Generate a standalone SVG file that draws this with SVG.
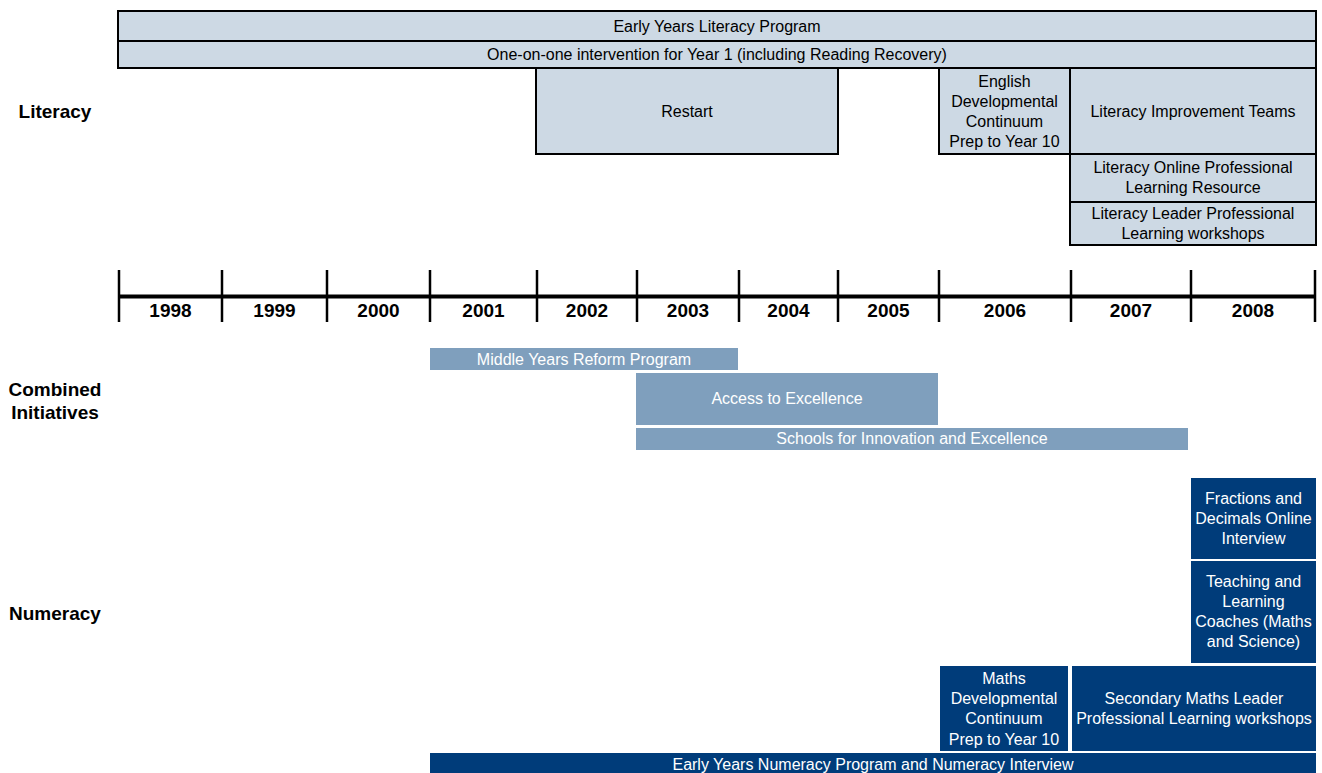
<svg xmlns="http://www.w3.org/2000/svg" width="1322" height="773" viewBox="0 0 1322 773">
<style>
.lit{fill:#cdd9e4;stroke:#000;stroke-width:2}
.com{fill:#7f9fbd}
.num{fill:#003c7a}
.t{font-family:"Liberation Sans",Arial,sans-serif;font-size:16px;text-anchor:middle}
.dk{fill:#000}
.wt{fill:#fff}
.hd{font-family:"Liberation Sans",Arial,sans-serif;font-size:19px;font-weight:bold;text-anchor:middle;fill:#000}
.tick{stroke:#000;stroke-width:2.5}
</style>
<rect width="1322" height="773" fill="#fff"/>
<g id="labels">
<text class="hd" x="55" y="118">Literacy</text>
<text class="hd" x="55" y="396">Combined</text>
<text class="hd" x="55" y="419">Initiatives</text>
<text class="hd" x="55" y="620">Numeracy</text>
</g>
<g id="early-years-literacy"><rect class="lit" x="118" y="11" width="1198" height="30"/><text class="t dk" x="717" y="32">Early Years Literacy Program</text></g>
<g id="one-on-one"><rect class="lit" x="118" y="41" width="1198" height="27"/><text class="t dk" x="717" y="60">One-on-one intervention for Year 1 (including Reading Recovery)</text></g>
<g id="restart"><rect class="lit" x="536" y="68" width="302" height="86"/><text class="t dk" x="687" y="117">Restart</text></g>
<g id="english-continuum"><rect class="lit" x="939" y="68" width="131" height="86"/><text class="t dk" x="1004.5" y="87">English</text><text class="t dk" x="1004.5" y="107">Developmental</text><text class="t dk" x="1004.5" y="127">Continuum</text><text class="t dk" x="1004.5" y="147">Prep to Year 10</text></g>
<g id="literacy-improvement"><rect class="lit" x="1070" y="68" width="246" height="86"/><text class="t dk" x="1193" y="117">Literacy Improvement Teams</text></g>
<g id="literacy-online"><rect class="lit" x="1070" y="154" width="246" height="48"/><text class="t dk" x="1193" y="173">Literacy Online Professional</text><text class="t dk" x="1193" y="193">Learning Resource</text></g>
<g id="literacy-leader"><rect class="lit" x="1070" y="202" width="246" height="43"/><text class="t dk" x="1193" y="219">Literacy Leader Professional</text><text class="t dk" x="1193" y="239">Learning workshops</text></g>
<g id="timeline">
<line x1="118" y1="296.5" x2="1316" y2="296.5" stroke="#000" stroke-width="4"/>
<line class="tick" x1="119" y1="270" x2="119" y2="322"/>
<line class="tick" x1="222" y1="270" x2="222" y2="322"/>
<line class="tick" x1="327" y1="270" x2="327" y2="322"/>
<line class="tick" x1="430" y1="270" x2="430" y2="322"/>
<line class="tick" x1="537" y1="270" x2="537" y2="322"/>
<line class="tick" x1="637" y1="270" x2="637" y2="322"/>
<line class="tick" x1="739" y1="270" x2="739" y2="322"/>
<line class="tick" x1="838" y1="270" x2="838" y2="322"/>
<line class="tick" x1="939" y1="270" x2="939" y2="322"/>
<line class="tick" x1="1071" y1="270" x2="1071" y2="322"/>
<line class="tick" x1="1191" y1="270" x2="1191" y2="322"/>
<line class="tick" x1="1315" y1="270" x2="1315" y2="322"/>
<text class="hd" x="170.5" y="317">1998</text>
<text class="hd" x="274.5" y="317">1999</text>
<text class="hd" x="378.5" y="317">2000</text>
<text class="hd" x="483.5" y="317">2001</text>
<text class="hd" x="587" y="317">2002</text>
<text class="hd" x="688" y="317">2003</text>
<text class="hd" x="788.5" y="317">2004</text>
<text class="hd" x="888.5" y="317">2005</text>
<text class="hd" x="1005" y="317">2006</text>
<text class="hd" x="1131" y="317">2007</text>
<text class="hd" x="1253" y="317">2008</text>
</g>
<g id="middle-years"><rect class="com" x="430" y="348" width="308" height="22"/><text class="t wt" x="584" y="365">Middle Years Reform Program</text></g>
<g id="access-excellence"><rect class="com" x="636" y="373" width="302" height="52"/><text class="t wt" x="787" y="404">Access to Excellence</text></g>
<g id="schools-innovation"><rect class="com" x="636" y="428" width="552" height="22"/><text class="t wt" x="912" y="444">Schools for Innovation and Excellence</text></g>
<g id="fractions"><rect class="num" x="1191" y="478" width="125" height="81"/><text class="t wt" x="1253.5" y="504">Fractions and</text><text class="t wt" x="1253.5" y="524">Decimals Online</text><text class="t wt" x="1253.5" y="544">Interview</text></g>
<g id="teaching-coaches"><rect class="num" x="1191" y="561" width="125" height="102"/><text class="t wt" x="1253.5" y="587">Teaching and</text><text class="t wt" x="1253.5" y="607">Learning</text><text class="t wt" x="1253.5" y="627">Coaches (Maths</text><text class="t wt" x="1253.5" y="647">and Science)</text></g>
<g id="maths-continuum"><rect class="num" x="940" y="666" width="128" height="85"/><text class="t wt" x="1004" y="684">Maths</text><text class="t wt" x="1004" y="704">Developmental</text><text class="t wt" x="1004" y="724">Continuum</text><text class="t wt" x="1004" y="745">Prep to Year 10</text></g>
<g id="secondary-maths"><rect class="num" x="1072" y="666" width="244" height="85"/><text class="t wt" x="1194" y="704">Secondary Maths Leader</text><text class="t wt" x="1194" y="724">Professional Learning workshops</text></g>
<g id="early-years-numeracy"><rect class="num" x="430" y="753" width="886" height="20"/><text class="t wt" x="873" y="770">Early Years Numeracy Program and Numeracy Interview</text></g>
<g id="connectors"/>
</svg>
